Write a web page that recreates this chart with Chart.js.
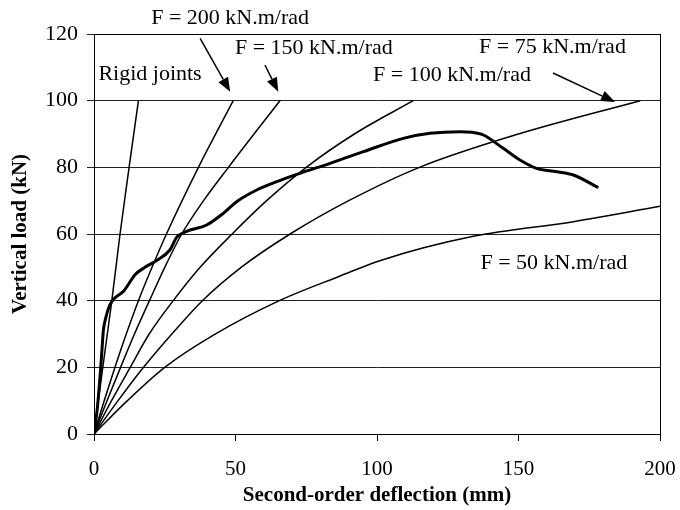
<!DOCTYPE html>
<html>
<head>
<meta charset="utf-8">
<script src="https://cdn.jsdelivr.net/npm/chart.js@4.4.1/dist/chart.umd.min.js"></script>
<style>
    html, body { margin: 0; padding: 0; background: #fff; }
    #wrap { width: 680px; height: 510px; }
</style>
</head>
<body>
<div id="wrap"><canvas id="loadChart" width="680" height="510"></canvas></div>
<script>
// Curves: [deflection (mm), vertical load (kN)]
const rigidJoints = [[0, 0], [3.1, 20], [6.3, 40], [9.2, 60], [12.4, 80], [15.7, 100]];
const f200 = [[0, 0], [3.6, 10], [7.4, 20], [11.4, 30], [15.7, 40], [20.5, 50], [25.6, 60], [36.9, 80], [49.2, 100]];
const f150 = [[0, 0], [4.6, 10], [9.4, 20], [14.3, 30], [19.6, 40], [25, 50], [31, 60], [38.7, 70], [47.5, 80], [65.7, 100]];
const f100 = [[0, 0], [6.2, 10], [12.8, 20], [19.5, 30], [28, 40], [37.5, 50], [48.8, 60], [61, 70], [75, 80], [92, 90], [112.8, 100]];
const f75 = [[0, 0], [8.5, 10], [17.5, 20], [27.5, 30], [38.3, 40], [52, 50], [69.3, 60], [90, 70], [115, 80], [150, 90], [193, 100]];
const f50 = [[0, 0], [11.8, 10], [25, 20], [42.5, 29.8], [65.5, 40], [87, 47.4], [101, 52], [134, 59.3], [169.4, 63.7], [200, 68.3]];
const experiment = [[0, 0], [1.2, 8], [2.2, 18], [2.8, 25], [3.3, 31], [4.2, 35], [5.5, 38.5], [7, 40.5],
    [10.6, 43], [14.5, 47.8], [18, 50], [22, 52], [26.8, 55.2], [29.2, 59], [32.5, 60.7], [39.8, 62.7],
    [45.7, 66.2], [50.4, 69.7], [57.5, 73.2], [64.6, 75.7], [72.8, 78.2], [83.4, 81.2], [95.2, 84.7],
    [109.3, 88.7], [118.7, 90.2], [129.3, 90.7], [133.5, 90.5], [137.6, 89.7], [144.6, 85.7],
    [150.5, 82.2], [156.4, 79.7], [163.5, 78.7], [169.4, 77.7], [178.2, 73.9]];

// Tick labels
const xTicks = [0, 50, 100, 150, 200];
const yTicks = [0, 20, 40, 60, 80, 100, 120];

// Annotation texts and arrows (in data units)
const labels = [
    { text: 'F = 200 kN.m/rad', x: 48.1, y: 124.8 },
    { text: 'F = 150 kN.m/rad', x: 77.7, y: 115.8 },
    { text: 'Rigid joints', x: 19.8, y: 108 },
    { text: 'F = 75 kN.m/rad', x: 162, y: 116.1 },
    { text: 'F = 100 kN.m/rad', x: 126.5, y: 107.7 },
    { text: 'F = 50 kN.m/rad', x: 162.5, y: 51.3 }
];
const arrows = [
    { from: [37.5, 118.7], to: [48.1, 102.7] },
    { from: [60.4, 110.7], to: [65.1, 102.7] },
    { from: [162.2, 108.3], to: [184.1, 99.6] }
];

const FONT = '"Liberation Serif", "Times New Roman", serif';

function toPoints(arr) {
    return arr.map(p => ({ x: p[0], y: p[1] }));
}

function curve(arr, width) {
    return {
        data: toPoints(arr),
        borderColor: '#000',
        borderWidth: width,
        pointRadius: 0,
        showLine: true,
        cubicInterpolationMode: 'monotone',
        fill: false
    };
}

// Box around the plot area
const frame = {
    id: 'frame',
    afterDatasetsDraw(chart) {
        const { ctx, chartArea: a } = chart;
        ctx.save();
        ctx.strokeStyle = '#000';
        ctx.lineWidth = 1;
        ctx.strokeRect(a.left + 0.5, a.top + 0.5, a.right - a.left, a.bottom - a.top);
        ctx.restore();
    }
};

// Annotations and arrows
const notes = {
    id: 'notes',
    afterDraw(chart) {
        const { ctx } = chart;
        const xs = chart.scales.x, ys = chart.scales.y;
        ctx.save();
        ctx.fillStyle = '#000';
        ctx.font = '22px ' + FONT;
        ctx.textAlign = 'center';
        ctx.textBaseline = 'middle';
        labels.forEach(l => {
            ctx.fillText(l.text, xs.getPixelForValue(l.x), ys.getPixelForValue(l.y));
        });
        ctx.strokeStyle = '#000';
        ctx.lineWidth = 1.5;
        arrows.forEach(a => {
            const x1 = xs.getPixelForValue(a.from[0]), y1 = ys.getPixelForValue(a.from[1]);
            const x2 = xs.getPixelForValue(a.to[0]), y2 = ys.getPixelForValue(a.to[1]);
            const ang = Math.atan2(y2 - y1, x2 - x1);
            const len = 14, half = 5.5;
            const bx = x2 - len * Math.cos(ang), by = y2 - len * Math.sin(ang);
            ctx.beginPath();
            ctx.moveTo(x1, y1);
            ctx.lineTo(bx, by);
            ctx.stroke();
            ctx.beginPath();
            ctx.moveTo(x2, y2);
            ctx.lineTo(bx + half * Math.sin(ang), by - half * Math.cos(ang));
            ctx.lineTo(bx - half * Math.sin(ang), by + half * Math.cos(ang));
            ctx.closePath();
            ctx.fill();
        });
        ctx.restore();
    }
};

new Chart(document.getElementById('loadChart'), {
    type: 'scatter',
    data: {
        datasets: [
            curve(rigidJoints, 1.5),
            curve(f200, 1.5),
            curve(f150, 1.5),
            curve(f100, 1.5),
            curve(f75, 1.5),
            curve(f50, 1.5),
            curve(experiment, 3)
        ]
    },
    options: {
        responsive: false,
        animation: false,
        layout: { padding: { top: 34, right: 20, left: 0, bottom: 0 } },
        plugins: {
            legend: { display: false },
            tooltip: { enabled: false }
        },
        scales: {
            x: {
                type: 'linear',
                min: 0,
                max: 200,
                afterBuildTicks: s => { s.ticks = xTicks.map(v => ({ value: v })); },
                afterFit: s => { s.height = 76; s.paddingLeft = 0; s.paddingRight = 0; },
                grid: { drawOnChartArea: false, tickLength: 7, color: '#000' },
                border: { color: '#000' },
                ticks: { color: '#000', padding: 16, maxRotation: 0, font: { family: FONT, size: 21 } },
                title: {
                    display: true,
                    text: 'Second-order deflection (mm)',
                    color: '#000',
                    padding: { top: 0, bottom: 2 },
                    font: { family: FONT, size: 21, weight: 'bold' }
                }
            },
            y: {
                type: 'linear',
                min: 0,
                max: 120,
                afterBuildTicks: s => { s.ticks = yTicks.map(v => ({ value: v })); },
                afterFit: s => { s.width = 94; s.paddingTop = 0; s.paddingBottom = 0; },
                grid: { tickLength: 7, color: '#222' },
                border: { color: '#000' },
                ticks: { color: '#000', padding: 9, font: { family: FONT, size: 22 } },
                title: {
                    display: true,
                    text: 'Vertical load (kN)',
                    color: '#000',
                    padding: { top: 8, bottom: 0 },
                    font: { family: FONT, size: 21, weight: 'bold' }
                }
            }
        }
    },
    plugins: [frame, notes]
});
</script>
</body>
</html>
